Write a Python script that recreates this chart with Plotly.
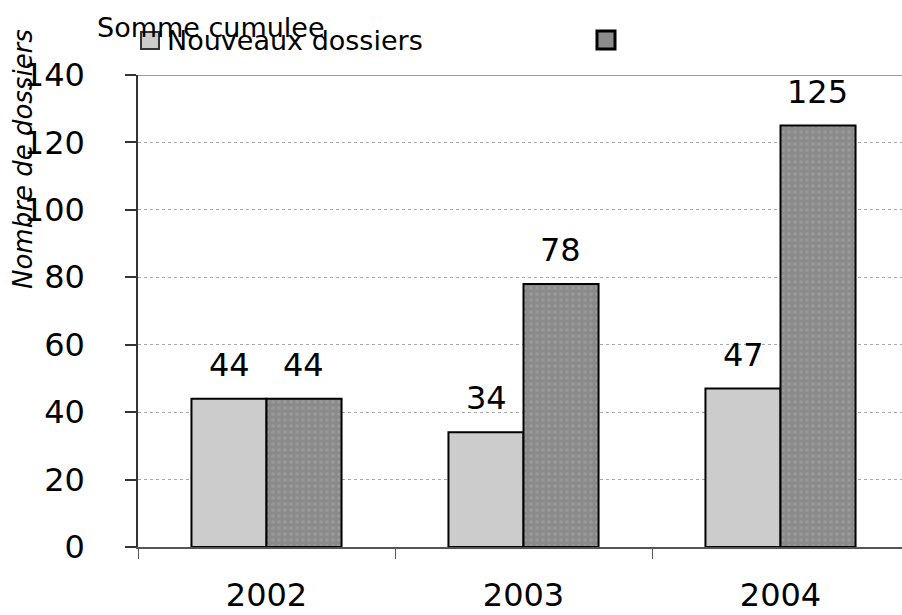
import plotly.graph_objects as go

years = ["2002", "2003", "2004"]
nouveaux = [44, 34, 47]
cumulee = [44, 78, 125]
y_ticks = [0, 20, 40, 60, 80, 100, 120, 140]
legend_names = ["Nouveaux dossiers", "Somme cumulee"]
y_title = "Nombre de dossiers"

FONT = "DejaVu Sans, Liberation Sans, Arial, sans-serif"
W, H = 902, 615
ML, MR, MT, MB = 138, 0, 75, 68
PW = W - ML - MR
PH = H - MT - MB
CAT_W = 257.0

def px_x(p):
    return (p - ML) / PW

def px_y(p):
    return (H - MB - p) / PH

fig = go.Figure()
fig.add_trace(go.Bar(
    x=years, y=nouveaux, name=legend_names[0],
    marker=dict(color="#cccccc", line=dict(color="#000000", width=2)),
    showlegend=False,
))
fig.add_trace(go.Bar(
    x=years, y=cumulee, name=legend_names[1],
    marker=dict(color="#8c8c8c", line=dict(color="#000000", width=2),
                pattern=dict(shape=".", fgcolor="#a8a8a8", bgcolor="#8a8a8a",
                             size=6, solidity=0.3)),
    showlegend=False,
))

annotations = []
for i, v in enumerate(nouveaux):
    annotations.append(dict(x=i, y=v, xref="x", yref="y", text=str(v), showarrow=False,
                            xshift=-37, yshift=13, yanchor="bottom",
                            font=dict(family=FONT, size=32, color="#000")))
for i, v in enumerate(cumulee):
    annotations.append(dict(x=i, y=v, xref="x", yref="y", text=str(v), showarrow=False,
                            xshift=37, yshift=13, yanchor="bottom",
                            font=dict(family=FONT, size=32, color="#000")))

# legend texts
annotations.append(dict(x=px_x(95), y=px_y(27), xref="paper", yref="paper",
                        text=legend_names[1], showarrow=False, xanchor="left", yanchor="middle",
                        font=dict(family=FONT, size=27, color="#000")))
annotations.append(dict(x=px_x(165), y=px_y(41), xref="paper", yref="paper",
                        text=legend_names[0], showarrow=False, xanchor="left", yanchor="middle",
                        font=dict(family=FONT, size=27, color="#000")))
# y axis title
annotations.append(dict(x=px_x(23), y=px_y(159), xref="paper", yref="paper",
                        text="<i>" + y_title + "</i>", showarrow=False, textangle=-90,
                        xanchor="center", yanchor="middle",
                        font=dict(family=FONT, size=26, color="#000")))

shapes = [
    dict(type="line", xref="paper", yref="y", x0=0, x1=1, y0=y_ticks[-1], y1=y_ticks[-1],
         line=dict(color="#9a9a9a", width=2)),
    dict(type="rect", xref="paper", yref="paper",
         x0=px_x(141), x1=px_x(159), y0=px_y(49), y1=px_y(32),
         fillcolor="#cccccc", line=dict(color="#333333", width=2)),
    dict(type="rect", xref="paper", yref="paper",
         x0=px_x(597), x1=px_x(615), y0=px_y(49), y1=px_y(31),
         fillcolor="#8c8c8c", line=dict(color="#000000", width=3)),
]

fig.update_layout(
    width=W, height=H,
    margin=dict(l=ML, r=MR, t=MT, b=MB, pad=0, autoexpand=False),
    paper_bgcolor="white", plot_bgcolor="white",
    barmode="group", bargap=0.416, bargroupgap=0,
    showlegend=False,
    annotations=annotations, shapes=shapes,
    font=dict(family=FONT, color="#000"),
)
fig.update_xaxes(
    type="category", range=[-0.5, -0.5 + PW / CAT_W], automargin=False,
    tickson="boundaries", ticks="outside", ticklen=10, tickcolor="#555", tickwidth=1,
    showline=True, linecolor="#555", linewidth=1.5,
    showgrid=False, tickfont=dict(family=FONT, size=32, color="#000"),
    ticklabelstandoff=19,
)
fig.update_yaxes(
    range=[0, 140], tickvals=y_ticks, ticktext=[str(t) for t in y_ticks],
    automargin=False,
    ticks="outside", ticklen=11, tickcolor="#333", tickwidth=1.5,
    showline=True, linecolor="#333", linewidth=1.5,
    showgrid=True, gridcolor="#aaaaaa", griddash="dot", gridwidth=1,
    zeroline=False,
    tickfont=dict(family=FONT, size=32, color="#000"),
    ticklabelstandoff=34,
)

fig.write_html("out.html")
